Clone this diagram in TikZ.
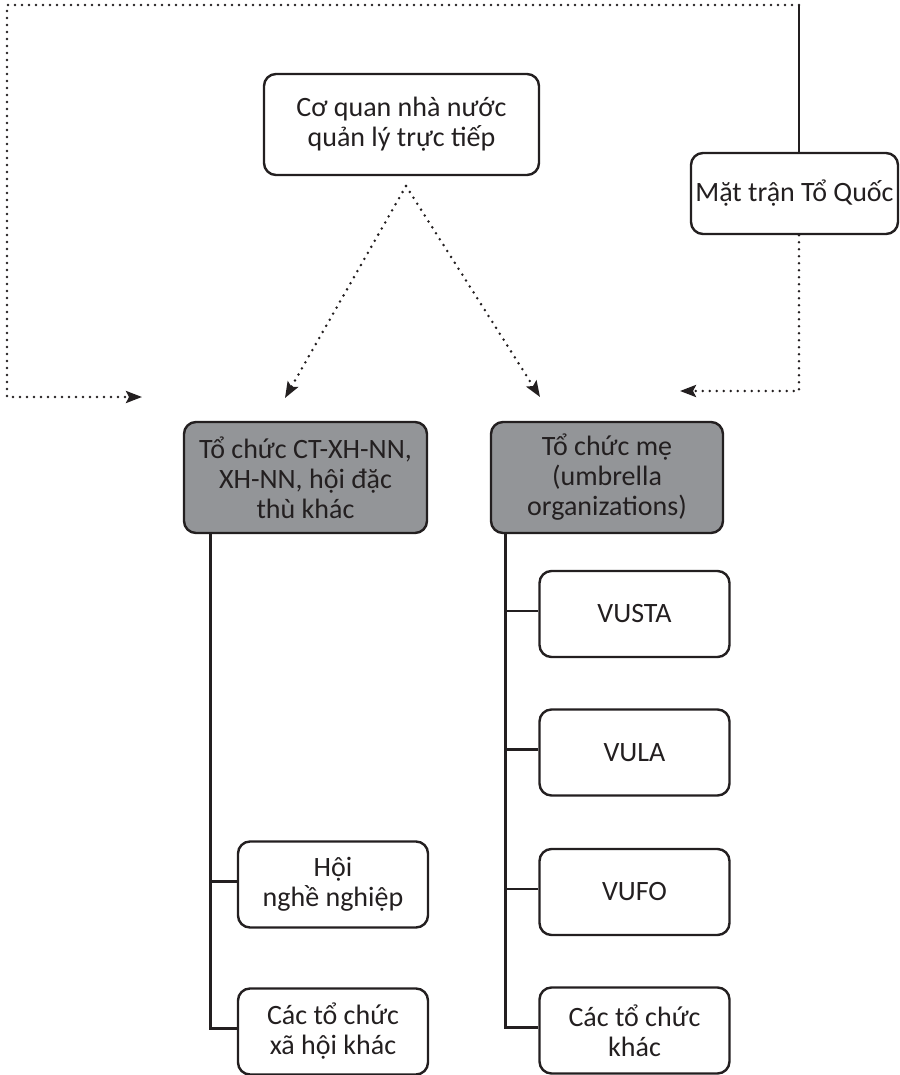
\documentclass[tikz,border=0pt]{standalone}
\usepackage{fontspec}
\setmainfont{Carlito}
\usetikzlibrary{arrows.meta,positioning,calc}
\definecolor{ink}{HTML}{231F20}
\definecolor{boxgray}{HTML}{939598}
\def\leafwidth{190pt}
\def\leafheight{86pt}
\def\dotgap{7pt}

\begin{document}
\begin{tikzpicture}[x=1pt,y=-1pt, myarrow/.style={-{Stealth[length=16pt,width=12pt,inset=3pt]}}]
    \tikzstyle{box}=[draw=ink,line width=2.4pt,rounded corners=12pt,align=center,text=ink,inner sep=0pt,font=\fontsize{28}{30}\selectfont]
    \tikzstyle{top box}=[box,minimum width=275pt,minimum height=101pt]
    \tikzstyle{group box}=[box,fill=boxgray,minimum height=111pt]
    \tikzstyle{leaf box}=[box,minimum width=\leafwidth,minimum height=\leafheight]
    \tikzstyle{dots}=[draw=ink,line width=2.8pt,line cap=round,dash pattern=on 0pt off \dotgap]
    \tikzstyle{link}=[draw=ink,line width=2.8pt]

    \useasboundingbox (0,0) rectangle (899,1075);

    % Draw the nodes
    \node[top box] (coquan) at (401.5,124.5) {Cơ quan nhà nước\\quản lý trực tiếp};
    \node[box,minimum width=207pt,minimum height=81pt] (mattran) at (794.5,193.5) {Mặt trận Tổ Quốc};

    \node[group box,minimum width=243pt] (ctxh) at (305.5,477.5) {Tổ chức CT-XH-NN,\\XH-NN, hội đặc\\thù khác};
    \node[group box,minimum width=232pt] (tcme) at (607,477.5) {Tổ chức mẹ\\(umbrella\\organizations)};

    \node[leaf box] (hoi) at (333,884.5) {Hội\\nghề nghiệp};
    \node[leaf box] (xahoi) at (333,1031.5) {Các tổ chức\\xã hội khác};

    \foreach \name/\ypos/\label in {vusta/614/VUSTA, vula/752.5/VULA, vufo/892/VUFO, khac/1030.5/{Các tổ chức\\khác}}
        \node[leaf box] (\name) at (634.5,\ypos) {\label};

    % Dotted arrows
    \coordinate (apex) at (406,186);
    \coordinate (tip-l) at (285,398);
    \coordinate (tip-r) at (540,397);
    \coordinate (corner) at (799,5);
    \coordinate (far-corner) at (7,5);
    \coordinate (tip-far) at (142,397);
    \coordinate (tip-m) at (680,391);

    \draw[dots,myarrow] (apex) -- (tip-l);
    \draw[dots,myarrow] (apex) -- (tip-r);
    \draw[link] (mattran.north -| corner) -- (corner);
    \draw[dots,myarrow] (corner) -- (far-corner) |- (tip-far);
    \draw[dots,myarrow] (mattran.south -| corner) |- (tip-m);

    % Connect the trees
    \coordinate (trunk-l) at ($(ctxh.south west)+(28,0)$);
    \coordinate (trunk-r) at ($(tcme.south west)+(16,0)$);
    \foreach \dest in {hoi,xahoi}
        \draw[link] (trunk-l) |- ([yshift=3pt]\dest.west);
    \foreach \dest in {vusta,vula,vufo,khac}
        \draw[link] (trunk-r) |- ([yshift=3pt]\dest.west);
\end{tikzpicture}
\end{document}
